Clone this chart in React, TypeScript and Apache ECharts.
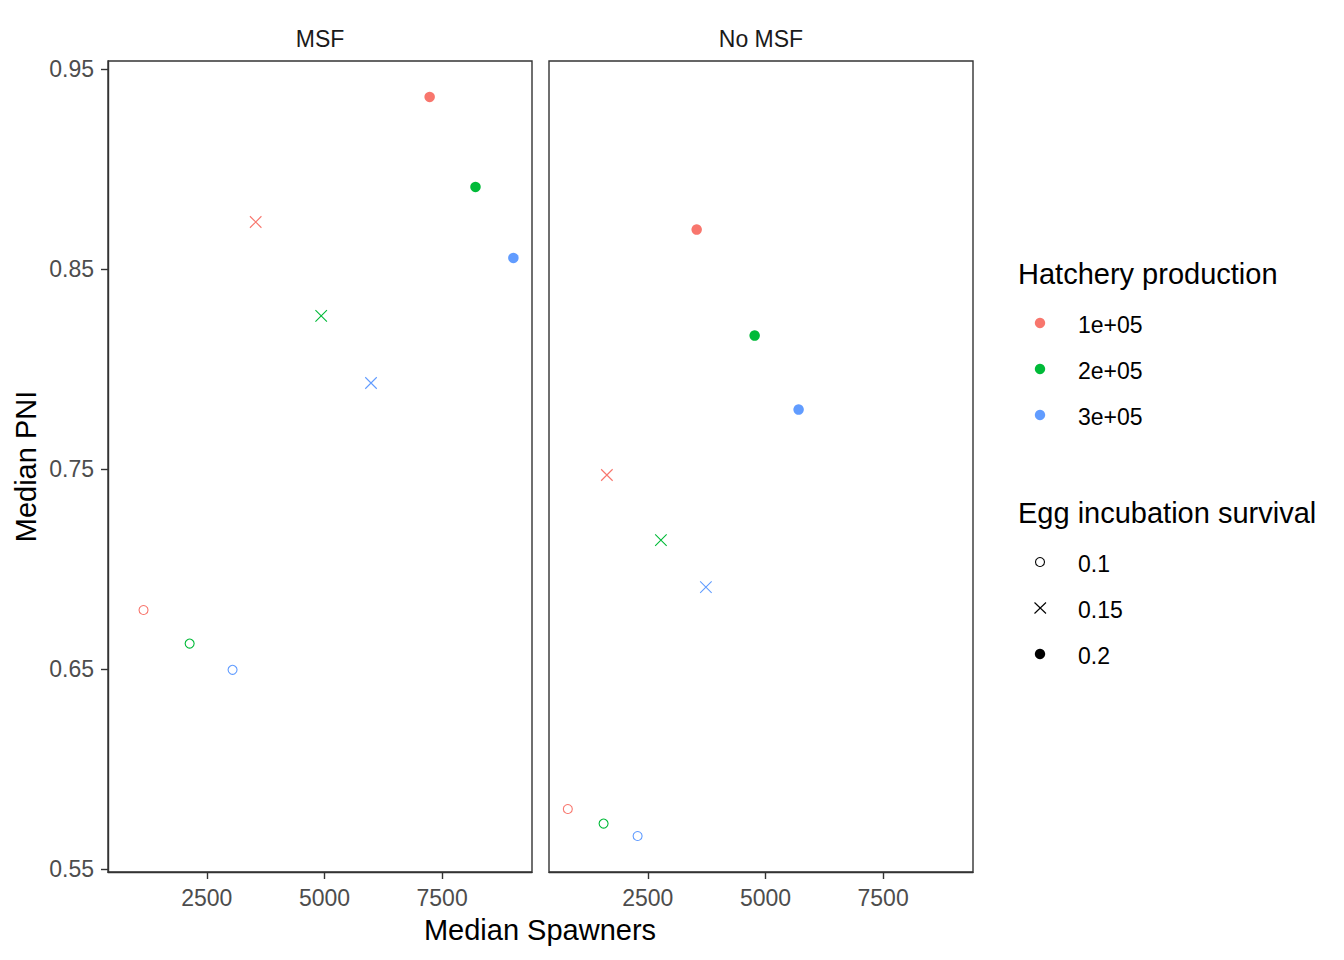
import React, { useEffect, useRef } from "react";
import * as echarts from "echarts";

// ---- data ----
const PANELS = ["MSF", "No MSF"];
const HATCHERY = ["1e+05", "2e+05", "3e+05"];
const SURVIVAL = ["0.1", "0.15", "0.2"];
const COLORS = ["#F8766D", "#00BA38", "#619CFF"];

// MSF panel, values per hatchery level (1e5, 2e5, 3e5)
const MSF_S01_SPAWNERS = [1155, 2135, 3047];
const MSF_S01_PNI = [0.6795, 0.6627, 0.6496];
const MSF_S015_SPAWNERS = [3538, 4930, 5989];
const MSF_S015_PNI = [0.8735, 0.8266, 0.793];
const MSF_S02_SPAWNERS = [7235, 8209, 9014];
const MSF_S02_PNI = [0.936, 0.891, 0.8555];

// No MSF panel
const NOMSF_S01_SPAWNERS = [800, 1560, 2283];
const NOMSF_S01_PNI = [0.58, 0.5727, 0.5665];
const NOMSF_S015_SPAWNERS = [1630, 2778, 3734];
const NOMSF_S015_PNI = [0.747, 0.7144, 0.6909];
const NOMSF_S02_SPAWNERS = [3538, 4770, 5704];
const NOMSF_S02_PNI = [0.8697, 0.8167, 0.7797];

const X_TICKS = [2500, 5000, 7500];
const Y_TICKS = [0.55, 0.65, 0.75, 0.85, 0.95];
const X_MIN = 400;
const X_MAX = 9410;
const Y_MIN = 0.5485;
const Y_MAX = 0.954;

const PANEL_DATA = [
  [
    [MSF_S01_SPAWNERS, MSF_S01_PNI],
    [MSF_S015_SPAWNERS, MSF_S015_PNI],
    [MSF_S02_SPAWNERS, MSF_S02_PNI],
  ],
  [
    [NOMSF_S01_SPAWNERS, NOMSF_S01_PNI],
    [NOMSF_S015_SPAWNERS, NOMSF_S015_PNI],
    [NOMSF_S02_SPAWNERS, NOMSF_S02_PNI],
  ],
];

const FONT = "'Liberation Sans', Arial, sans-serif";
const CROSS = "path://M0,0L10,10M10,0L0,10";

function markerStyle(s: number, color: string) {
  if (s === 0) {
    return {
      symbol: "circle",
      symbolSize: 9,
      itemStyle: { color: "rgba(0,0,0,0)", borderColor: color, borderWidth: 1.1, opacity: 1 },
    };
  }
  if (s === 1) {
    return {
      symbol: CROSS,
      symbolSize: 11.5,
      itemStyle: { color: "rgba(0,0,0,0)", borderColor: color, borderWidth: 1.1, opacity: 1 },
    };
  }
  return {
    symbol: "circle",
    symbolSize: 10.5,
    itemStyle: { color, borderWidth: 0, opacity: 1 },
  };
}

export default function App() {
  const ref = useRef<HTMLDivElement>(null);

  useEffect(() => {
    if (!ref.current) return;
    const chart = echarts.init(ref.current, undefined, { renderer: "svg" });

    const grids = [
      { left: 108, top: 61, width: 424, height: 811 },
      { left: 549, top: 61, width: 424, height: 811 },
    ].map((g) => ({
      ...g,
      show: true,
      borderColor: "#333333",
      borderWidth: 1.4,
      backgroundColor: "#FFFFFF",
      containLabel: false,
    }));

    const xAxes = PANELS.map((_, i) => ({
      type: "value",
      gridIndex: i,
      min: X_MIN,
      max: X_MAX,
      splitLine: { show: false },
      axisLine: { show: true, lineStyle: { color: "#333333", width: 1.4 } },
      axisTick: {
        show: true,
        length: 7,
        customValues: X_TICKS,
        lineStyle: { color: "#333333", width: 1.4 },
      },
      axisLabel: {
        show: true,
        customValues: X_TICKS,
        margin: 14,
        color: "#4D4D4D",
        fontSize: 23,
        fontFamily: FONT,
        formatter: (v: number) => String(v),
      },
    }));

    const yAxes = PANELS.map((_, i) => ({
      type: "value",
      gridIndex: i,
      min: Y_MIN,
      max: Y_MAX,
      splitLine: { show: false },
      axisLine: { show: i === 0, lineStyle: { color: "#333333", width: 1.4 } },
      axisTick: {
        show: i === 0,
        length: 7,
        customValues: Y_TICKS,
        lineStyle: { color: "#333333", width: 1.4 },
      },
      axisLabel: {
        show: i === 0,
        customValues: Y_TICKS,
        margin: 14,
        color: "#4D4D4D",
        fontSize: 23,
        fontFamily: FONT,
        formatter: (v: number) => v.toFixed(2),
      },
      name: i === 0 ? "Median PNI" : "",
      nameLocation: "middle",
      nameGap: 68,
      nameRotate: 90,
      nameTextStyle: { fontSize: 29, color: "#000000", fontFamily: FONT },
    }));

    const series: any[] = [];
    PANEL_DATA.forEach((panel, p) => {
      panel.forEach(([xs, ys], s) => {
        HATCHERY.forEach((h, k) => {
          series.push({
            type: "scatter",
            name: `${PANELS[p]} ${h} ${SURVIVAL[s]}`,
            xAxisIndex: p,
            yAxisIndex: p,
            data: [[xs[k], ys[k]]],
            ...markerStyle(s, COLORS[k]),
            z: 3,
          });
        });
      });
    });

    // legend built with graphic elements
    const graphics: any[] = [];
    // strip titles
    const stripCenters = [320, 761];
    PANELS.forEach((p, i) => {
      graphics.push({
        type: "text",
        x: stripCenters[i],
        y: 39,
        style: {
          text: p,
          fontSize: 23,
          fontFamily: FONT,
          fill: "#1A1A1A",
          align: "center",
          verticalAlign: "middle",
        },
      });
    });
    // x axis title
    graphics.push({
      type: "text",
      x: 540,
      y: 930,
      style: {
        text: "Median Spawners",
        fontSize: 29,
        fontFamily: FONT,
        fill: "#000000",
        align: "center",
        verticalAlign: "middle",
      },
    });
    // legend 1
    graphics.push({
      type: "text",
      x: 1018,
      y: 274,
      style: {
        text: "Hatchery production",
        fontSize: 29,
        fontFamily: FONT,
        fill: "#000000",
        align: "left",
        verticalAlign: "middle",
      },
    });
    const colorRows = [323, 369, 415];
    HATCHERY.forEach((h, k) => {
      graphics.push({
        type: "circle",
        shape: { cx: 1040, cy: colorRows[k], r: 5.2 },
        style: { fill: COLORS[k] },
      });
      graphics.push({
        type: "text",
        x: 1078,
        y: colorRows[k] + 1.5,
        style: {
          text: h,
          fontSize: 23,
          fontFamily: FONT,
          fill: "#000000",
          align: "left",
          verticalAlign: "middle",
        },
      });
    });
    // legend 2
    graphics.push({
      type: "text",
      x: 1018,
      y: 513,
      style: {
        text: "Egg incubation survival",
        fontSize: 29,
        fontFamily: FONT,
        fill: "#000000",
        align: "left",
        verticalAlign: "middle",
      },
    });
    const shapeRows = [562, 608, 654];
    SURVIVAL.forEach((sv, s) => {
      const cy = shapeRows[s];
      if (s === 0) {
        graphics.push({
          type: "circle",
          shape: { cx: 1040, cy, r: 4.5 },
          style: { fill: "none", stroke: "#000000", lineWidth: 1.1 },
        });
      } else if (s === 1) {
        graphics.push({
          type: "line",
          shape: { x1: 1034.5, y1: cy - 5.5, x2: 1046, y2: cy + 5.5 },
          style: { stroke: "#000000", lineWidth: 1.1 },
        });
        graphics.push({
          type: "line",
          shape: { x1: 1046, y1: cy - 5.5, x2: 1034.5, y2: cy + 5.5 },
          style: { stroke: "#000000", lineWidth: 1.1 },
        });
      } else {
        graphics.push({
          type: "circle",
          shape: { cx: 1040, cy, r: 5.2 },
          style: { fill: "#000000" },
        });
      }
      graphics.push({
        type: "text",
        x: 1078,
        y: cy + 2,
        style: {
          text: sv,
          fontSize: 23,
          fontFamily: FONT,
          fill: "#000000",
          align: "left",
          verticalAlign: "middle",
        },
      });
    });

    chart.setOption({
      animation: false,
      backgroundColor: "#FFFFFF",
      textStyle: { fontFamily: FONT },
      grid: grids,
      xAxis: xAxes,
      yAxis: yAxes,
      series,
      graphic: graphics,
    });

    return () => chart.dispose();
  }, []);

  return (
    <div
      ref={ref}
      style={{ position: "absolute", left: 0, top: 0, width: 1344, height: 960 }}
    />
  );
}
